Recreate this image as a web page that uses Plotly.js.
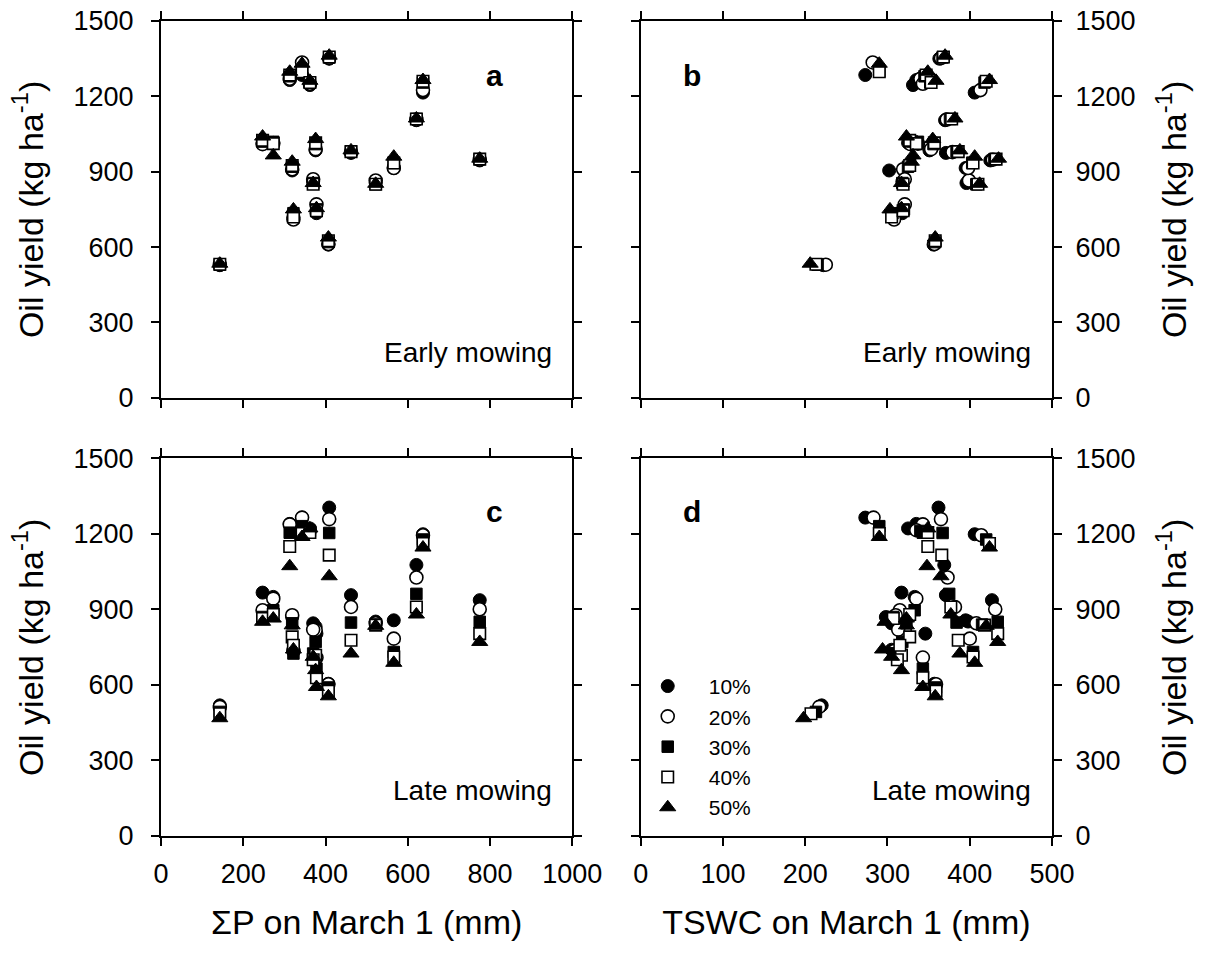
<!DOCTYPE html>
<html>
<head>
<meta charset="utf-8">
<script src="https://cdn.plot.ly/plotly-3.0.1.min.js"></script>
<style>html,body{margin:0;padding:0;background:#fff;}#chart{width:1212px;height:953px;}</style>
</head>
<body>
<div id="chart"></div>
<script>
// Levels (legend labels)
const levels = ['10%', '20%', '30%', '40%', '50%'];

// Cumulative precipitation on March 1 (mm), one value per site-year
const sumP = [143, 247, 273, 313, 343, 362, 409, 319, 376, 370, 322, 378, 407, 462, 522, 566, 621, 637, 775];

// Early mowing oil yield (kg/ha), one row per level
const yieldEarly = [
  [528, 1015, 1015, 1265, 1285, 1245, 1350, 905, 985, 860, 720, 735, 610, 975, 855, 915, 1105, 1215, 945],
  [530, 1010, 1012, 1270, 1335, 1250, 1352, 910, 990, 870, 710, 770, 612, 978, 865, 915, 1108, 1225, 948],
  [530, 1020, 1019, 1280, 1300, 1255, 1355, 920, 1010, 855, 735, 750, 620, 980, 850, 935, 1110, 1255, 950],
  [532, 1025, 1012, 1285, 1298, 1255, 1357, 925, 1015, 850, 720, 745, 625, 980, 850, 935, 1110, 1260, 950],
  [534, 1040, 965, 1298, 1330, 1262, 1362, 940, 1030, 855, 750, 755, 638, 985, 852, 960, 1112, 1265, 952]
];

// TSWC on March 1 (mm), one row per level
const tswcEarly = [
  [222, 325, 335, 335, 273, 331, 363, 302, 351, 318, 307, 318, 356, 371, 396, 395, 370, 406, 425],
  [225, 328, 337, 340, 282, 343, 365, 319, 353, 321, 308, 321, 357, 379, 399, 398, 372, 413, 428],
  [215, 330, 337, 345, 290, 352, 367, 325, 356, 318, 306, 320, 358, 384, 408, 403, 376, 418, 430],
  [213, 327, 335, 347, 290, 353, 368, 327, 357, 319, 305, 319, 358, 386, 410, 404, 378, 420, 432],
  [206, 323, 331, 349, 290, 359, 370, 329, 355, 317, 303, 317, 358, 388, 412, 406, 382, 424, 435]
];

// Late mowing oil yield (kg/ha), one row per level
const yieldLate = [
  [519, 967, 950, 1240, 1265, 1222, 1305, 870, 831, 845, 740, 804, 605, 957, 852, 857, 1077, 1199, 937],
  [513, 897, 943, 1238, 1265, 1215, 1259, 877, 818, 820, 735, 709, 603, 910, 845, 784, 1027, 1195, 901],
  [493, 870, 897, 1205, 1231, 1212, 1204, 845, 771, 725, 725, 665, 590, 848, 840, 731, 962, 1178, 851],
  [486, 864, 880, 1150, 1202, 1206, 1116, 791, 718, 700, 758, 629, 575, 778, 838, 711, 910, 1162, 804],
  [468, 851, 864, 1072, 1188, 1222, 1032, 837, 659, 712, 741, 592, 555, 725, 835, 688, 880, 1146, 771]
];

// TSWC on March 1 (mm), one row per level
const tswcLate = [
  [220, 317, 333, 335, 273, 325, 362, 298, 317, 305, 305, 346, 357, 371, 398, 395, 369, 406, 427],
  [217, 315, 335, 343, 283, 335, 365, 310, 321, 313, 308, 343, 359, 382, 408, 400, 373, 414, 431],
  [213, 307, 333, 343, 290, 340, 367, 323, 318, 307, 307, 343, 359, 384, 415, 404, 375, 420, 434],
  [207, 307, 327, 349, 290, 349, 366, 327, 317, 312, 315, 343, 359, 386, 418, 404, 377, 424, 434],
  [198, 297, 323, 348, 290, 349, 365, 323, 317, 305, 294, 343, 358, 388, 420, 406, 377, 424, 434]
];

// Axis tick values
const yTicks = [0, 300, 600, 900, 1200, 1500];
const pTicks = [0, 200, 400, 600, 800, 1000];
const wTicks = [0, 100, 200, 300, 400, 500];

// Marker styles per level
const symbols = ['circle', 'circle', 'square', 'square', 'triangle-up'];
const fills = ['black', 'white', 'black', 'white', 'black'];
const sizes = [13, 13, 11.5, 11.5, 14];

const panels = [
  {xa: 'x',  ya: 'y',  ys: i => yieldEarly[i], legend: false, xsrc: i => sumP},
  {xa: 'x2', ya: 'y2', ys: i => yieldEarly[i], legend: false, xsrc: i => tswcEarly[i]},
  {xa: 'x3', ya: 'y3', ys: i => yieldLate[i],  legend: false, xsrc: i => sumP},
  {xa: 'x4', ya: 'y4', ys: i => yieldLate[i],  legend: true,  xsrc: i => tswcLate[i]}
];

const traces = [];
panels.forEach(p => {
  levels.forEach((lv, i) => {
    traces.push({
      type: 'scatter', mode: 'markers',
      x: p.xsrc(i), y: p.ys(i),
      xaxis: p.xa, yaxis: p.ya,
      name: lv, legendgroup: lv, showlegend: p.legend,
      marker: {symbol: symbols[i], size: sizes[i], color: fills[i],
               line: {color: 'black', width: fills[i] === 'white' ? 1.6 : 1}},
      hoverinfo: 'x+y'
    });
  });
});

const FONT = 'Liberation Sans, Arial, sans-serif';
const tickFont = {family: FONT, size: 27, color: 'black'};
const titleFont = {family: FONT, size: 34, color: 'black'};

function ax(extra) {
  return Object.assign({
    showline: true, linecolor: 'black', linewidth: 2,
    mirror: 'allticks', ticks: 'outside', ticklen: 8, tickwidth: 2, tickcolor: 'black',
    showgrid: false, zeroline: false, fixedrange: true,
    tickfont: tickFont, automargin: false
  }, extra);
}

const dxL = [0, 0.46158], dxR = [0.53842, 1];
const dyT = [0.53762, 1], dyB = [0, 0.46324];
const yTitle = 'Oil yield (kg ha<sup>-1</sup>)';

const layout = {
  width: 1212, height: 953,
  margin: {l: 161, r: 159.5, t: 21, b: 117.3},
  paper_bgcolor: 'white', plot_bgcolor: 'white',
  font: {family: FONT, color: 'black'},
  showlegend: true,
  legend: {x: 0.5227, xanchor: 'left', y: 0.2087, yanchor: 'top',
           font: {family: FONT, size: 21, color: 'black'},
           bgcolor: 'rgba(0,0,0,0)', borderwidth: 0, itemwidth: 72, tracegroupgap: 0},
  xaxis:  ax({domain: dxL, anchor: 'y',  range: [0, 1000], tickvals: pTicks, showticklabels: false}),
  yaxis:  ax({domain: dyT, anchor: 'x',  range: [0, 1500], tickvals: yTicks, ticklabelstandoff: 12,
              title: {text: yTitle, font: titleFont, standoff: 20}}),
  xaxis2: ax({domain: dxR, anchor: 'y2', range: [0, 500], tickvals: wTicks, showticklabels: false}),
  yaxis2: ax({domain: dyT, anchor: 'x2', range: [0, 1500], tickvals: yTicks, side: 'right', ticklabelstandoff: 8,
              title: {text: yTitle, font: titleFont, standoff: 28}}),
  xaxis3: ax({domain: dxL, anchor: 'y3', range: [0, 1000], tickvals: pTicks, ticklabelstandoff: 5,
              title: {text: 'ΣP on March 1 (mm)', font: titleFont, standoff: 22}}),
  yaxis3: ax({domain: dyB, anchor: 'x3', range: [0, 1500], tickvals: yTicks, ticklabelstandoff: 12,
              title: {text: yTitle, font: titleFont, standoff: 20}}),
  xaxis4: ax({domain: dxR, anchor: 'y4', range: [0, 500], tickvals: wTicks, ticklabelstandoff: 5,
              title: {text: 'TSWC on March 1 (mm)', font: titleFont, standoff: 22}}),
  yaxis4: ax({domain: dyB, anchor: 'x4', range: [0, 1500], tickvals: yTicks, side: 'right', ticklabelstandoff: 8,
              title: {text: yTitle, font: titleFont, standoff: 28}}),
  annotations: [
    {text: '<b>a</b>', xref: 'x domain', yref: 'y domain', x: 0.836, y: 0.904, showarrow: false, font: {family: FONT, size: 30}},
    {text: '<b>b</b>', xref: 'x2 domain', yref: 'y2 domain', x: 0.097, y: 0.904, showarrow: false, font: {family: FONT, size: 30}},
    {text: '<b>c</b>', xref: 'x3 domain', yref: 'y3 domain', x: 0.836, y: 0.908, showarrow: false, font: {family: FONT, size: 30}},
    {text: '<b>d</b>', xref: 'x4 domain', yref: 'y4 domain', x: 0.097, y: 0.908, showarrow: false, font: {family: FONT, size: 30}},
    {text: 'Early mowing', xref: 'x domain', yref: 'y domain', x: 0.955, y: 0.0735, xanchor: 'right', showarrow: false, font: {family: FONT, size: 28}},
    {text: 'Early mowing', xref: 'x2 domain', yref: 'y2 domain', x: 0.955, y: 0.0735, xanchor: 'right', showarrow: false, font: {family: FONT, size: 28}},
    {text: 'Late mowing', xref: 'x3 domain', yref: 'y3 domain', x: 0.955, y: 0.0734, xanchor: 'right', showarrow: false, font: {family: FONT, size: 28}},
    {text: 'Late mowing', xref: 'x4 domain', yref: 'y4 domain', x: 0.955, y: 0.0734, xanchor: 'right', showarrow: false, font: {family: FONT, size: 28}}
  ]
};

Plotly.newPlot('chart', traces, layout, {displayModeBar: false});
</script>
</body>
</html>
